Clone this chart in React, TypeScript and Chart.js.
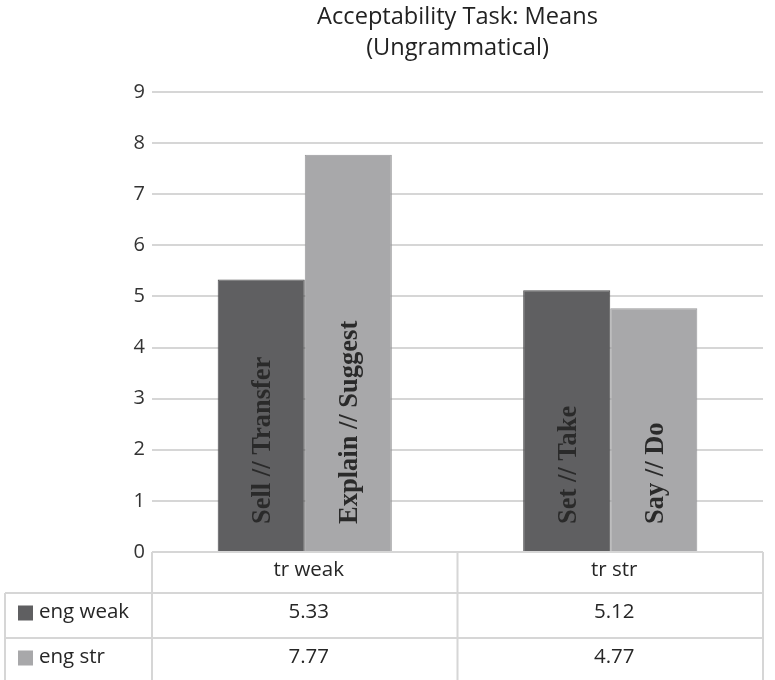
import React, { useEffect, useRef } from "react";
import { Chart, registerables } from "chart.js";

Chart.register(...registerables);

// Chart content
const titleLines = ["Acceptability Task: Means", "(Ungrammatical)"];
const categories = ["tr weak", "tr str"];
const seriesNames = ["eng weak", "eng str"];
const engWeak = [5.33, 5.12];
const engStr = [7.77, 4.77];
const engWeakLabels = ["Sell // Transfer", "Set // Take"];
const engStrLabels = ["Explain // Suggest", "Say // Do"];
const yTicks = [0, 1, 2, 3, 4, 5, 6, 7, 8, 9];

const DARK = "#5f5f61";
const DARK_EDGE = "#4c4c4e";
const LIGHT = "#a8a8aa";
const LIGHT_EDGE = "#98989a";
const GRID = "#d6d6d6";
const SANS = "'Open Sans', 'Noto Sans', sans-serif";
const SERIF = "'Liberation Serif', 'DejaVu Serif', serif";

const seriesColors = [DARK, LIGHT];
const seriesValues = [engWeak, engStr];
const barLabels = [engWeakLabels, engStrLabels];

const fmt = (v: number) => v.toFixed(2);

// Title centred over the plot area, rotated labels inside bars and the data table
const decorations = {
  id: "decorations",
  afterDatasetsDraw(chart: any) {
    const ctx = chart.ctx;
    ctx.save();
    ctx.fillStyle = "#2a2a2a";
    ctx.font = `bold 26.5px ${SERIF}`;
    ctx.textAlign = "left";
    ctx.textBaseline = "alphabetic";
    barLabels.forEach((labels, di) => {
      const meta = chart.getDatasetMeta(di);
      meta.data.forEach((el: any, i: number) => {
        ctx.save();
        ctx.translate(el.x + 9, el.base - 27);
        ctx.rotate(-Math.PI / 2);
        ctx.fillText(labels[i], 0, 0);
        ctx.restore();
      });
    });
    ctx.restore();
  },
  afterDraw(chart: any) {
    const ctx = chart.ctx;
    const area = chart.chartArea;
    const xs = chart.scales.x;
    const cx = (area.left + area.right) / 2;

    ctx.save();
    // title
    ctx.fillStyle = "#222";
    ctx.font = `23.6px ${SANS}`;
    ctx.textAlign = "center";
    ctx.textBaseline = "alphabetic";
    ctx.fillText(titleLines[0], cx, 24);
    ctx.fillText(titleLines[1], cx, 55);

    // data table
    const left = area.left;
    const right = area.right;
    const p0 = xs.getPixelForValue(0);
    const p1 = xs.getPixelForValue(1);
    const mid = (p0 + p1) / 2;
    const top = area.bottom;
    const headerBottom = top + 41;
    const rowH = 45;
    const tableLeft = 5;
    const bottom = chart.height;

    ctx.strokeStyle = GRID;
    ctx.lineWidth = 2;
    ctx.beginPath();
    ctx.moveTo(left, top);
    ctx.lineTo(right, top);
    [left, mid, right].forEach((x) => {
      ctx.moveTo(x, top);
      ctx.lineTo(x, bottom);
    });
    ctx.moveTo(tableLeft, headerBottom);
    ctx.lineTo(tableLeft, bottom);
    for (let r = 0; r < seriesNames.length; r++) {
      const y = headerBottom + r * rowH;
      ctx.moveTo(tableLeft, y);
      ctx.lineTo(right, y);
    }
    ctx.stroke();

    ctx.font = `20.5px ${SANS}`;
    ctx.fillStyle = "#262626";
    ctx.textBaseline = "middle";
    ctx.textAlign = "center";
    const centers = categories.map((_, i) => xs.getPixelForValue(i) + 4);
    categories.forEach((c, i) => {
      ctx.fillText(c, centers[i], (top + headerBottom) / 2 - 2);
    });
    seriesNames.forEach((name, r) => {
      const yMid = headerBottom + r * rowH + rowH / 2 - 3;
      ctx.fillStyle = seriesColors[r];
      ctx.fillRect(18, yMid - 7, 15, 15);
      ctx.fillStyle = "#262626";
      ctx.textAlign = "left";
      ctx.fillText(name, 39, yMid);
      ctx.textAlign = "center";
      seriesValues[r].forEach((v, i) => {
        ctx.fillText(fmt(v), centers[i], yMid);
      });
    });
    ctx.restore();
  },
};

export default function App() {
  const canvasRef = useRef<HTMLCanvasElement | null>(null);

  useEffect(() => {
    const canvas = canvasRef.current;
    if (!canvas) return;
    const chart = new Chart(canvas, {
      type: "bar",
      data: {
        labels: categories,
        datasets: [
          {
            label: seriesNames[0],
            data: engWeak,
            backgroundColor: DARK,
            borderColor: DARK_EDGE,
            borderWidth: 1,
          },
          {
            label: seriesNames[1],
            data: engStr,
            backgroundColor: LIGHT,
            borderColor: LIGHT_EDGE,
            borderWidth: 1,
          },
        ],
      },
      options: {
        responsive: false,
        animation: false,
        devicePixelRatio: 1,
        datasets: {
          bar: { categoryPercentage: 0.57, barPercentage: 1.0 },
        },
        layout: { padding: { left: 0, right: 12, top: 92, bottom: 128 } },
        plugins: {
          legend: { display: false },
          title: { display: false },
          tooltip: { enabled: false },
        },
        scales: {
          x: { display: false },
          y: {
            min: yTicks[0],
            max: yTicks[yTicks.length - 1],
            afterFit: (scale: any) => {
              scale.width = 152;
            },
            afterBuildTicks: (scale: any) => {
              scale.ticks = yTicks.map((v) => ({ value: v }));
            },
            border: { display: false },
            grid: { color: GRID, lineWidth: 2, drawTicks: false },
            ticks: {
              padding: 7,
              color: "#333",
              font: { family: SANS, size: 20 },
            },
          },
        },
      },
      plugins: [decorations],
    });
    return () => chart.destroy();
  }, []);

  return (
    <div style={{ position: "absolute", left: 0, top: 0, width: 775, height: 680, background: "#fff" }}>
      <canvas ref={canvasRef} width={775} height={680} />
    </div>
  );
}
